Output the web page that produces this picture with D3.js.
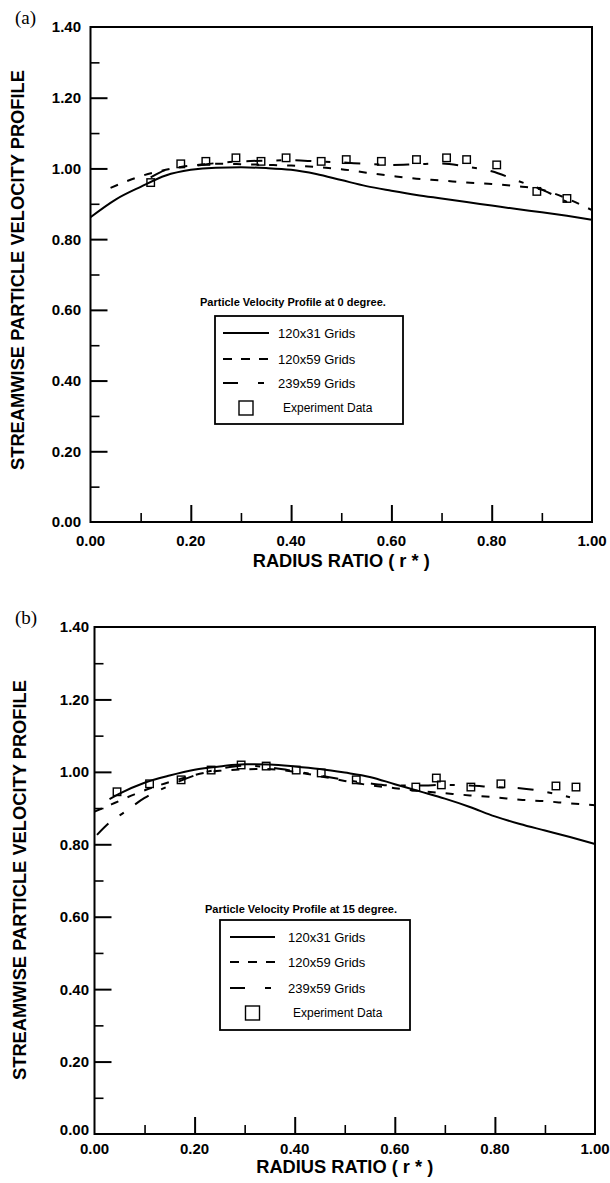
<!DOCTYPE html>
<html><head><meta charset="utf-8">
<script src="https://cdn.jsdelivr.net/npm/d3@7"></script>
<style>body{margin:0;background:#fff}svg{display:block}</style>
</head><body>
<svg id="c" width="610" height="1183"></svg>
<script>
// ---------- data ----------
const xTicks = [0, 0.2, 0.4, 0.6, 0.8, 1.0];
const yTicks = [0, 0.2, 0.4, 0.6, 0.8, 1.0, 1.2, 1.4];
const seriesNames = ["120x31 Grids", "120x59 Grids", "239x59 Grids", "Experiment Data"];

// Panel (a): 0 degree
const aSolidX = [0,0.05,0.10,0.15,0.20,0.25,0.30,0.35,0.40,0.45,0.50,0.55,0.60,0.65,0.70,0.75,0.80,0.85,0.90,0.95,1.00];
const aSolidY = [0.862,0.912,0.948,0.980,0.996,1.002,1.003,1.001,0.996,0.984,0.967,0.950,0.937,0.925,0.915,0.905,0.895,0.885,0.876,0.866,0.855];
const aDashX = [0.04,0.10,0.15,0.20,0.25,0.30,0.35,0.40,0.45,0.50,0.55,0.60,0.65,0.70,0.75,0.80,0.85,0.90,0.95,1.00];
const aDashY = [0.945,0.978,0.996,1.008,1.013,1.012,1.010,1.008,1.004,0.998,0.988,0.979,0.971,0.966,0.960,0.956,0.950,0.940,0.915,0.882];
const aDotX = [0.12,0.16,0.20,0.25,0.30,0.35,0.40,0.45,0.50,0.55,0.60,0.65,0.70,0.75,0.80,0.85,0.90,0.95];
const aDotY = [0.975,1.000,1.006,1.015,1.020,1.022,1.023,1.020,1.017,1.013,1.010,1.012,1.014,1.005,0.992,0.966,0.940,0.905];
const aExpX = [0.12,0.18,0.23,0.29,0.34,0.39,0.46,0.51,0.58,0.65,0.71,0.75,0.81,0.89,0.95];
const aExpY = [0.96,1.013,1.02,1.03,1.02,1.03,1.02,1.025,1.02,1.025,1.03,1.025,1.01,0.935,0.915];

// Panel (b): 15 degree
const bSolidX = [0.03,0.05,0.10,0.15,0.20,0.25,0.30,0.35,0.40,0.45,0.50,0.55,0.60,0.65,0.70,0.75,0.80,0.85,0.90,0.95,1.00];
const bSolidY = [0.925,0.94,0.97,0.99,1.006,1.015,1.021,1.02,1.015,1.008,0.998,0.986,0.966,0.946,0.926,0.903,0.877,0.856,0.838,0.82,0.801];
const bDashX = [0.0,0.04,0.08,0.15,0.25,0.34,0.40,0.45,0.50,0.55,0.60,0.65,0.70,0.75,0.80,0.85,0.90,0.95,1.00];
const bDashY = [0.89,0.914,0.938,0.972,1.003,1.008,1.0,0.988,0.975,0.963,0.955,0.947,0.941,0.935,0.930,0.923,0.919,0.913,0.908];
const bDotX = [0.005,0.03,0.06,0.10,0.15,0.20,0.25,0.30,0.35,0.40,0.45,0.50,0.55,0.60,0.65,0.70,0.75,0.80,0.85,0.90,0.95];
const bDotY = [0.826,0.86,0.889,0.928,0.962,0.99,1.008,1.017,1.012,1.002,0.99,0.978,0.968,0.962,0.962,0.964,0.962,0.958,0.955,0.945,0.93];
const bExpX = [0.045,0.11,0.173,0.233,0.293,0.343,0.403,0.453,0.523,0.642,0.683,0.693,0.752,0.812,0.922,0.962];
const bExpY = [0.945,0.967,0.978,1.005,1.019,1.016,1.005,0.997,0.978,0.958,0.983,0.964,0.958,0.967,0.961,0.958];

const xTitle = "RADIUS RATIO ( r * )";
const yTitle = "STREAMWISE PARTICLE VELOCITY PROFILE";
const legendTitles = ["Particle Velocity Profile at 0 degree.", "Particle Velocity Profile at 15 degree."];
const panelLabels = ["(a)", "(b)"];

// ---------- drawing ----------
const svg = d3.select("#c");
const FONT = "'Liberation Sans', Arial, sans-serif";
const dashStyles = [null, "8,10", "16,14,5,14"];

function zip(xs, ys){ return xs.map((x,i)=>({x, y: ys[i]})); }

function panel(o){
  const x = d3.scaleLinear().domain([0,1]).range([o.left, o.right]);
  const y = d3.scaleLinear().domain([0,1.4]).range([o.bottom, o.top]);
  const g = svg.append("g");

  // frame
  g.append("rect").attr("x", o.left).attr("y", o.top)
    .attr("width", o.right-o.left).attr("height", o.bottom-o.top)
    .attr("fill","none").attr("stroke","#000").attr("stroke-width",2);

  // inner ticks (major + minor) via axes
  const xMinor = d3.range(0.1, 1.0, 0.2);
  const yMinor = d3.range(0.1, 1.4, 0.2);
  g.append("g").attr("transform",`translate(0,${o.bottom})`)
    .call(d3.axisTop(x).tickValues(xTicks.slice(1,-1)).tickSize(17).tickFormat(""))
    .call(s=>{s.select(".domain").remove(); s.selectAll("line").attr("stroke-width",2);});
  g.append("g").attr("transform",`translate(0,${o.bottom})`)
    .call(d3.axisTop(x).tickValues(xMinor).tickSize(9).tickFormat(""))
    .call(s=>{s.select(".domain").remove(); s.selectAll("line").attr("stroke-width",1.6);});
  g.append("g").attr("transform",`translate(${o.left},0)`)
    .call(d3.axisRight(y).tickValues(yTicks.slice(1,-1)).tickSize(17).tickFormat(""))
    .call(s=>{s.select(".domain").remove(); s.selectAll("line").attr("stroke-width",2);});
  g.append("g").attr("transform",`translate(${o.left},0)`)
    .call(d3.axisRight(y).tickValues(yMinor).tickSize(9).tickFormat(""))
    .call(s=>{s.select(".domain").remove(); s.selectAll("line").attr("stroke-width",1.6);});

  // tick labels
  g.selectAll(".xl").data(xTicks).join("text")
    .attr("x", d=>x(d)).attr("y", o.xLabelY).attr("text-anchor","middle")
    .attr("font-family",FONT).attr("font-weight","bold").attr("font-size",15)
    .text(d=>d.toFixed(2));
  g.selectAll(".yl").data(yTicks).join("text")
    .attr("x", o.yLabelX).attr("y", d=>y(d) - (d===0 ? o.zeroLift : 0)).attr("dy","0.36em").attr("text-anchor","end")
    .attr("font-family",FONT).attr("font-weight","bold").attr("font-size",15)
    .text(d=>d.toFixed(2));

  // titles
  g.append("text").attr("x",(o.left+o.right)/2).attr("y",o.xTitleY).attr("text-anchor","middle")
    .attr("font-family",FONT).attr("font-weight","bold").attr("font-size",18)
    .attr("textLength",177).attr("lengthAdjust","spacingAndGlyphs").text(xTitle);
  g.append("text").attr("transform",`translate(${o.yTitleX},${o.yTitleY}) rotate(-90)`)
    .attr("text-anchor","middle")
    .attr("font-family",FONT).attr("font-weight","bold").attr("font-size",18)
    .attr("textLength",400).attr("lengthAdjust","spacingAndGlyphs").text(yTitle);
  g.append("text").attr("x",15).attr("y",o.labelY)
    .attr("font-family","'Liberation Serif','Times New Roman',serif").attr("font-size",19)
    .text(o.label);

  // curves
  const line = d3.line().x(d=>x(d.x)).y(d=>y(d.y)).curve(d3.curveMonotoneX);
  o.lines.forEach((pts,i)=>{
    g.append("path").datum(pts).attr("d",line).attr("fill","none")
      .attr("stroke","#000").attr("stroke-width",2)
      .attr("stroke-dasharray", dashStyles[i]);
  });
  const s = 7.5;
  g.selectAll(".sq").data(o.exp).join("rect")
    .attr("x",d=>x(d.x)-s/2).attr("y",d=>y(d.y)-s/2).attr("width",s).attr("height",s)
    .attr("fill","none").attr("stroke","#000").attr("stroke-width",1.4);

  // legend
  const L = o.legend;
  g.append("text").attr("x",L.titleX).attr("y",L.titleY)
    .attr("font-family",FONT).attr("font-weight","bold").attr("font-size",11)
    .text(o.legendTitle);
  g.append("rect").attr("x",L.x0).attr("y",L.y0).attr("width",L.x1-L.x0).attr("height",L.y1-L.y0)
    .attr("fill","none").attr("stroke","#000").attr("stroke-width",1.8);
  seriesNames.forEach((name,i)=>{
    const ry = L.rows[i];
    if (i<3){
      g.append("line").attr("x1",L.lx0).attr("x2",L.lx1).attr("y1",ry).attr("y2",ry)
        .attr("stroke","#000").attr("stroke-width",2)
        .attr("stroke-dasharray", i===1 ? "9,9" : (i===2 ? "15,20,6,20" : null));
    } else {
      g.append("rect").attr("x",(L.lx0+L.lx1)/2-7).attr("y",ry-7).attr("width",14).attr("height",14)
        .attr("fill","none").attr("stroke","#000").attr("stroke-width",1.4);
    }
    g.append("text").attr("x", L.tx + (i===3?5:0)).attr("y",ry).attr("dy","0.36em")
      .attr("font-family",FONT).attr("font-size",i===3?12:13).text(name);
  });
}

panel({
  left:90.5, right:592, top:27, bottom:522,
  xLabelY:546, yLabelX:81, xTitleY:567, yTitleX:24, yTitleY:270, zeroLift:0,
  label:panelLabels[0], labelY:24,
  lines:[zip(aSolidX,aSolidY), zip(aDashX,aDashY), zip(aDotX,aDotY)],
  exp: zip(aExpX,aExpY),
  legendTitle: legendTitles[0],
  legend:{titleX:200,titleY:306,x0:215,y0:316,x1:403,y1:424,rows:[333,359,383,408],lx0:223,lx1:269,tx:278}
});
panel({
  left:94.5, right:595, top:627, bottom:1134,
  xLabelY:1154, yLabelX:89, xTitleY:1173, yTitleX:26, yTitleY:880, zeroLift:4,
  label:panelLabels[1], labelY:624,
  lines:[zip(bSolidX,bSolidY), zip(bDashX,bDashY), zip(bDotX,bDotY)],
  exp: zip(bExpX,bExpY),
  legendTitle: legendTitles[1],
  legend:{titleX:205,titleY:913,x0:220,y0:920,x1:410,y1:1030,rows:[937,962,988,1013],lx0:230,lx1:275,tx:288}
});
</script>
</body></html>
